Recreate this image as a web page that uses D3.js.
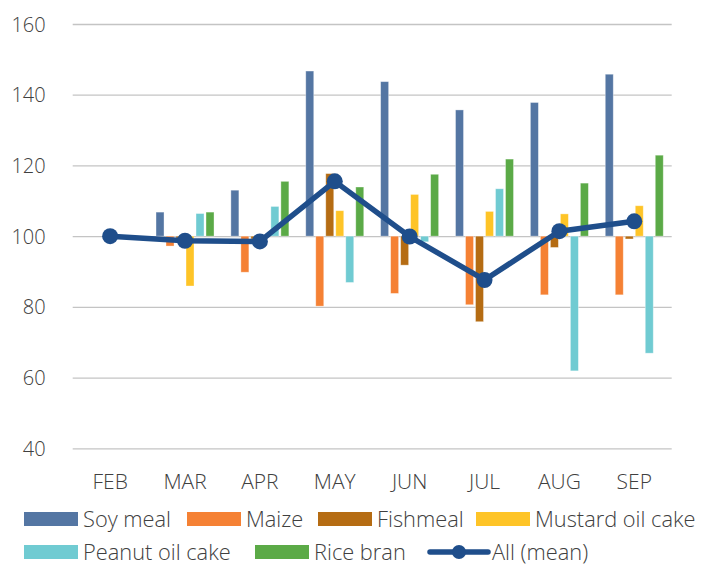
<!DOCTYPE html>
<html>
<head>
<meta charset="utf-8">
<script src="https://cdn.jsdelivr.net/npm/d3@7/dist/d3.min.js"></script>
<style>
  html, body { margin: 0; padding: 0; background: #ffffff; }
  svg { display: block; }
  text { font-family: "Open Sans", "Noto Sans", sans-serif; fill: #404040; font-weight: 300; }
</style>
</head>
<body>
<svg id="chart" width="712" height="574"></svg>
<script>
const months = ["FEB", "MAR", "APR", "MAY", "JUN", "JUL", "AUG", "SEP"];
const seriesNames = ["Soy meal", "Maize", "Fishmeal", "Mustard oil cake", "Peanut oil cake", "Rice bran"];
const soyMeal       = [100, 106.8, 113.0, 146.7, 143.7, 135.7, 137.8, 145.8];
const maize         = [100, 97.2,  89.8,  80.2,  83.8,  80.6,  83.4,  83.4];
const fishmeal      = [100, 99.4,  99.2,  117.7, 91.8,  75.8,  96.8,  99.2];
const mustardOil    = [100, 85.9,  99.6,  107.2, 111.8, 107.0, 106.3, 108.6];
const peanutOil     = [100, 106.4, 108.4, 86.9,  98.4,  113.4, 61.9,  66.9];
const riceBran      = [100, 106.8, 115.5, 113.9, 117.5, 121.8, 115.0, 122.9];
const allMean       = [100, 98.7,  98.5,  115.5, 99.9,  87.6,  101.4, 104.2];
const yTicks = [40, 60, 80, 100, 120, 140, 160];
const barColors = ["#5476a3", "#f58134", "#b56c13", "#fec427", "#70cbd2", "#5baa47"];
const lineColor = "#1f4e8b";

const seriesValues = [soyMeal, maize, fishmeal, mustardOil, peanutOil, riceBran];

const svg = d3.select("#chart");
const plotLeft = 72.7, plotRight = 671.7, plotTop = 24, plotBottom = 448.3;

const y = d3.scaleLinear().domain([40, 160]).range([plotBottom, plotTop]);
const x0 = d3.scaleBand().domain(months).range([plotLeft, plotRight]).paddingInner(0).paddingOuter(0);
const x1 = d3.scaleBand().domain(seriesNames).range([-30, 30]).paddingInner(0.2).paddingOuter(0.1);

// grid lines
const yAxis = d3.axisLeft(y).tickValues(yTicks).tickSize(-(plotRight - plotLeft)).tickPadding(27).tickFormat(d3.format("d"));
const gy = svg.append("g").attr("transform", `translate(${plotLeft},0)`).call(yAxis);
gy.select(".domain").remove();
gy.selectAll(".tick line").attr("stroke", "#c4c4c4").attr("stroke-width", 1.3);
gy.selectAll(".tick text").style("font-size", "20px").attr("font-family", null).attr("fill", "#404040").attr("dy", "0.35em");

// bars
const baseline = 100;
seriesNames.forEach((name, si) => {
  svg.append("g").selectAll("rect")
    .data(months.map((m, i) => ({ m, v: seriesValues[si][i] })))
    .join("rect")
    .attr("x", d => x0(d.m) + x0.bandwidth() / 2 + x1(name))
    .attr("width", x1.bandwidth())
    .attr("y", d => y(Math.max(d.v, baseline)))
    .attr("height", d => Math.abs(y(d.v) - y(baseline)))
    .attr("fill", barColors[si])
    .attr("stroke", "rgba(255,255,255,0.45)")
    .attr("stroke-width", 0.8);
});

// line
const cx = m => x0(m) + x0.bandwidth() / 2;
const lineData = months.map((m, i) => ({ m, v: allMean[i] }));
svg.append("path")
  .datum(lineData)
  .attr("fill", "none")
  .attr("stroke", lineColor)
  .attr("stroke-width", 5.5)
  .attr("stroke-linejoin", "round")
  .attr("d", d3.line().x(d => cx(d.m)).y(d => y(d.v)));
svg.append("g").selectAll("circle")
  .data(lineData)
  .join("circle")
  .attr("cx", d => cx(d.m))
  .attr("cy", d => y(d.v))
  .attr("r", 8)
  .attr("fill", lineColor);

// x axis labels
const xAxis = d3.axisBottom(x0).tickSize(0).tickPadding(0);
const gx = svg.append("g").attr("transform", `translate(0,482)`).call(xAxis);
gx.select(".domain").remove();
gx.selectAll(".tick text").style("font-size", "21px").attr("font-family", null).attr("fill", "#404040").attr("dy", "0.35em").attr("y", 0);

// legend
const legendItems = [
  { name: "Soy meal", type: "bar", c: barColors[0], x: 24, y: 519 },
  { name: "Maize", type: "bar", c: barColors[1], x: 187, y: 519 },
  { name: "Fishmeal", type: "bar", c: barColors[2], x: 318, y: 519 },
  { name: "Mustard oil cake", type: "bar", c: barColors[3], x: 476, y: 519 },
  { name: "Peanut oil cake", type: "bar", c: barColors[4], x: 24, y: 552 },
  { name: "Rice bran", type: "bar", c: barColors[5], x: 255, y: 552 },
  { name: "All (mean)", type: "line", c: lineColor, x: 430, y: 552 }
];
const lg = svg.append("g").selectAll("g").data(legendItems).join("g")
  .attr("transform", d => `translate(${d.x},${d.y})`);
lg.filter(d => d.type === "bar").append("rect")
  .attr("x", 0).attr("y", -7).attr("width", 54).attr("height", 14)
  .attr("fill", d => d.c);
const ll = lg.filter(d => d.type === "line");
ll.append("line").attr("x1", 0).attr("x2", 58).attr("y1", 0).attr("y2", 0)
  .attr("stroke", d => d.c).attr("stroke-width", 5.5).attr("stroke-linecap", "round");
ll.append("circle").attr("cx", 29).attr("cy", 0).attr("r", 7).attr("fill", d => d.c);
lg.append("text")
  .attr("x", d => d.type === "bar" ? 59 : 62)
  .attr("y", 0).attr("dy", "0.35em")
  .style("font-size", "21.8px")
  .text(d => d.name);
</script>
</body>
</html>
